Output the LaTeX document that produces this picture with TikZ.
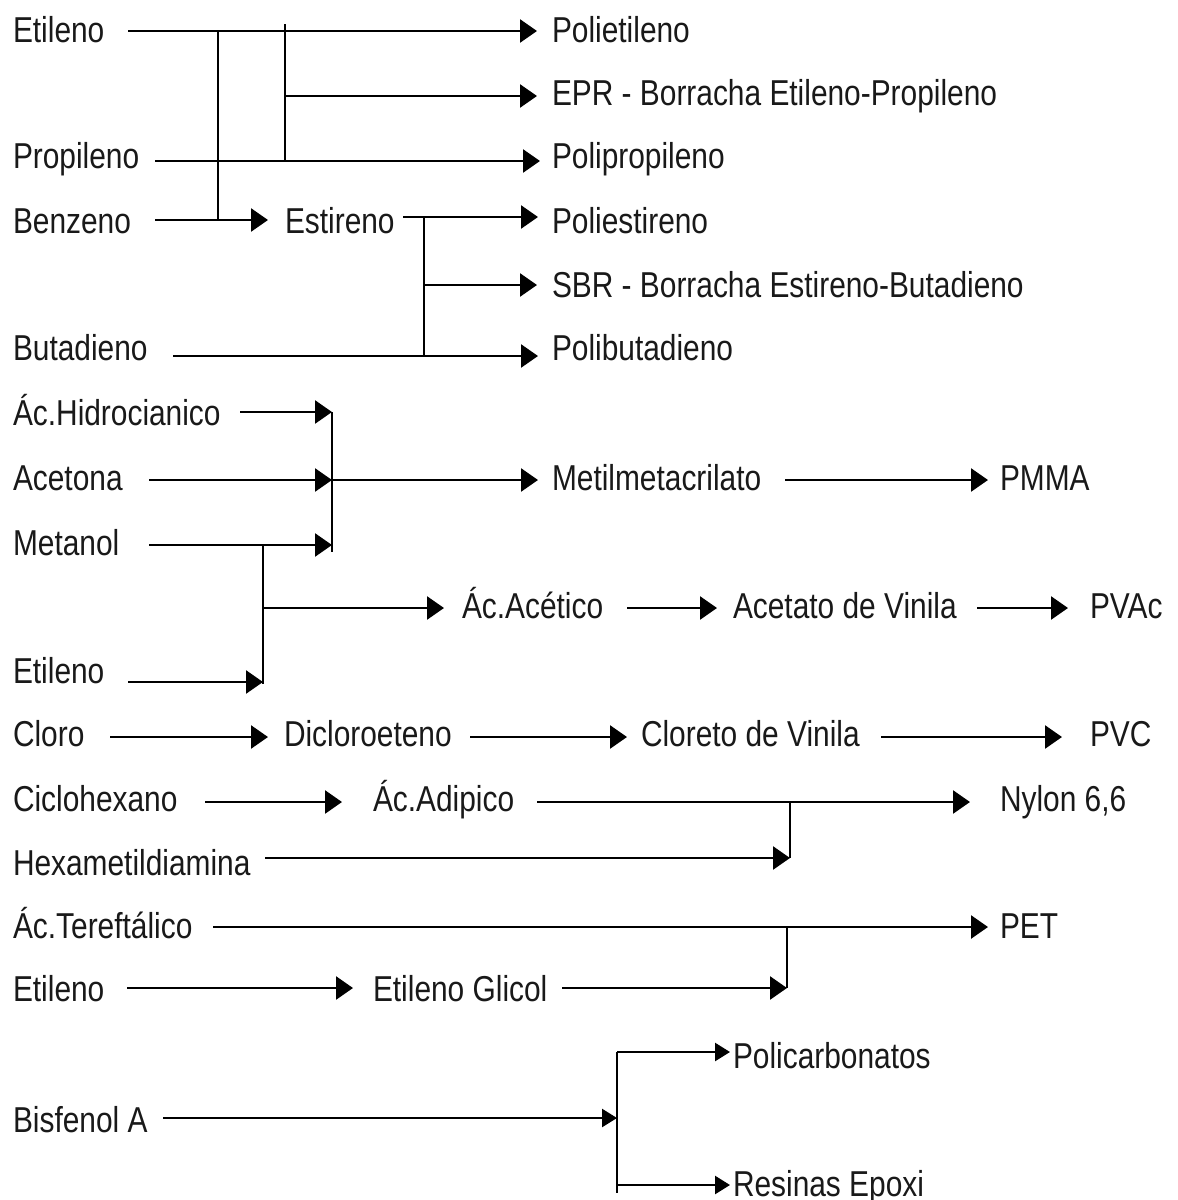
\documentclass[tikz,border=0pt]{standalone}
\usepackage{fontspec}
\setmainfont[FakeStretch=0.83]{Liberation Sans}
\usetikzlibrary{arrows.meta}
\begin{document}
\begin{tikzpicture}[x=0.5pt,y=-0.5pt,
  lbl/.style={anchor=base west,inner sep=0pt,outer sep=0pt,font=\fontsize{18}{20}\selectfont,text=black!90},
  ln/.style={line width=1.3pt,black},
  thin/.style={line width=0.75pt,black},
  arr/.style={ln,-{Triangle[length=8.5pt,width=11.5pt]}},
  arrs/.style={ln,-{Triangle[length=7.5pt,width=9pt]}}]
\useasboundingbox[fill=white] (0,0) rectangle (1178,1200);
% ---- text nodes
\node[lbl] (et1) at (13,42) {Etileno};
\node[lbl] (pe) at (552,42) {Polietileno};
\node[lbl] (epr) at (552,105) {EPR - Borracha Etileno-Propileno};
\node[lbl] (pro) at (13,168) {Propileno};
\node[lbl] (pp) at (552,168) {Polipropileno};
\node[lbl] (ben) at (13,233) {Benzeno};
\node[lbl] (est) at (285,233) {Estireno};
\node[lbl] (ps) at (552,233) {Poliestireno};
\node[lbl] (sbr) at (552,297) {SBR - Borracha Estireno-Butadieno};
\node[lbl] (but) at (13,360) {Butadieno};
\node[lbl] (pb) at (552,360) {Polibutadieno};
\node[lbl] (hcn) at (13,425) {Ác.Hidrocianico};
\node[lbl] (ace) at (13,490) {Acetona};
\node[lbl] (mma) at (552,490) {Metilmetacrilato};
\node[lbl] (pmma) at (1000,490) {PMMA};
\node[lbl] (met) at (13,555) {Metanol};
\node[lbl] (aac) at (462,618) {Ác.Acético};
\node[lbl] (vac) at (733,618) {Acetato de Vinila};
\node[lbl] (pvac) at (1090,618) {PVAc};
\node[lbl] (et2) at (13,683) {Etileno};
\node[lbl] (clo) at (13,746) {Cloro};
\node[lbl] (dce) at (284,746) {Dicloroeteno};
\node[lbl] (cvm) at (641,746) {Cloreto de Vinila};
\node[lbl] (pvc) at (1090,746) {PVC};
\node[lbl] (chx) at (13,811) {Ciclohexano};
\node[lbl] (aad) at (373,811) {Ác.Adipico};
\node[lbl] (nyl) at (1000,811) {Nylon 6,6};
\node[lbl] (hmd) at (13,875) {Hexametildiamina};
\node[lbl] (ter) at (13,938) {Ác.Tereftálico};
\node[lbl] (pet) at (1000,938) {PET};
\node[lbl] (et3) at (13,1001) {Etileno};
\node[lbl] (eg) at (373,1001) {Etileno Glicol};
\node[lbl] (pc) at (733,1068) {Policarbonatos};
\node[lbl] (bpa) at (13,1132) {Bisfenol A};
\node[lbl] (rep) at (733,1196) {Resinas Epoxi};
% ---- coordinates
\coordinate (a1) at (128,31);   \coordinate (a1e) at (537,31);
\coordinate (ja) at (218,31);   \coordinate (jab) at (218,220);
\coordinate (jb) at (285,24);   \coordinate (jbb) at (285,161);
\coordinate (jb2) at (285,96);  \coordinate (a2e) at (537,96);
\coordinate (a3) at (155,161);  \coordinate (a3e) at (540,161);
\coordinate (a4) at (155,220);  \coordinate (a4e) at (268,220);
\coordinate (a5) at (403,217);  \coordinate (a5e) at (538,217);
\coordinate (jc) at (424,217);  \coordinate (jcb) at (424,356);
\coordinate (jc2) at (424,285); \coordinate (a6e) at (537,285);
\coordinate (a7) at (173,356);  \coordinate (a7e) at (538,356);
\coordinate (a8) at (240,412);  \coordinate (jd) at (332,412);
\coordinate (jdb) at (332,552); \coordinate (jd2) at (332,480);
\coordinate (a9) at (149,480);  \coordinate (a10e) at (538,480);
\coordinate (a11) at (149,545); \coordinate (jd3) at (332,545);
\coordinate (je) at (263,545);  \coordinate (jeb) at (263,684);
\coordinate (je2) at (263,608); \coordinate (a12e) at (444,608);
\coordinate (a13) at (627,608); \coordinate (a13e) at (717,608);
\coordinate (a14) at (977,608); \coordinate (a14e) at (1068,608);
\coordinate (a15) at (128,682); \coordinate (je3) at (263,682);
\coordinate (a16) at (785,480); \coordinate (a16e) at (988,480);
\coordinate (b1) at (110,737);  \coordinate (b1e) at (268,737);
\coordinate (b2) at (470,737);  \coordinate (b2e) at (627,737);
\coordinate (b3) at (881,737);  \coordinate (b3e) at (1062,737);
\coordinate (b4) at (205,802);  \coordinate (b4e) at (342,802);
\coordinate (b5) at (537,802);  \coordinate (b5e) at (970,802);
\coordinate (jf) at (790,802);  \coordinate (jfb) at (790,858);
\coordinate (b6) at (265,858);
\coordinate (b7) at (213,927);  \coordinate (b7e) at (988,927);
\coordinate (jg) at (787,927);  \coordinate (jgb) at (787,988);
\coordinate (b8) at (127,988);  \coordinate (b8e) at (353,988);
\coordinate (b9) at (562,988);
\coordinate (jh) at (617,1052); \coordinate (jhb) at (617,1193);
\coordinate (c1e) at (730,1052);
\coordinate (c2) at (163,1118); \coordinate (jh2) at (617,1118);
\coordinate (jh3) at (617,1185); \coordinate (c3e) at (730,1185);
% ---- connectors: top group
\draw[arr] (a1) -- (a1e);
\draw[ln] (ja) -- (jab);
\draw[ln] (jb) -- (jbb);
\draw[arr] (jb2) -- (a2e);
\draw[arr] (a3) -- (a3e);
\draw[arr] (a4) -- (a4e);
\draw[arr] (a5) -- (a5e);
\draw[ln] (jc) -- (jcb);
\draw[arr] (jc2) -- (a6e);
\draw[arr] (a7) -- (a7e);
% ---- MMA / acetic group
\draw[arr] (a8) -- (jd);
\draw[ln] (jd) -- (jdb);
\draw[arr] (a9) -- (jd2);
\draw[arr] (jd2) -- (a10e);
\draw[arr] (a11) -- (jd3);
\draw[ln] (je) -- (jeb);
\draw[arr] (je2) -- (a12e);
\draw[arr] (a13) -- (a13e);
\draw[arr] (a14) -- (a14e);
\draw[arr] (a15) -- (je3);
\draw[arr] (a16) -- (a16e);
% ---- PVC, nylon, PET
\draw[arr] (b1) -- (b1e);
\draw[arr] (b2) -- (b2e);
\draw[arr] (b3) -- (b3e);
\draw[arr] (b4) -- (b4e);
\draw[arr] (b5) -- (b5e);
\draw[thin] (jf) -- (jfb);
\draw[arr] (b6) -- (jfb);
\draw[arr] (b7) -- (b7e);
\draw[thin] (jg) -- (jgb);
\draw[arr] (b8) -- (b8e);
\draw[arr] (b9) -- (jgb);
% ---- bisphenol A
\draw[ln] (jh) -- (jhb);
\draw[arrs] (jh) -- (c1e);
\draw[arrs] (c2) -- (jh2);
\draw[arrs] (jh3) -- (c3e);
\end{tikzpicture}
\end{document}
